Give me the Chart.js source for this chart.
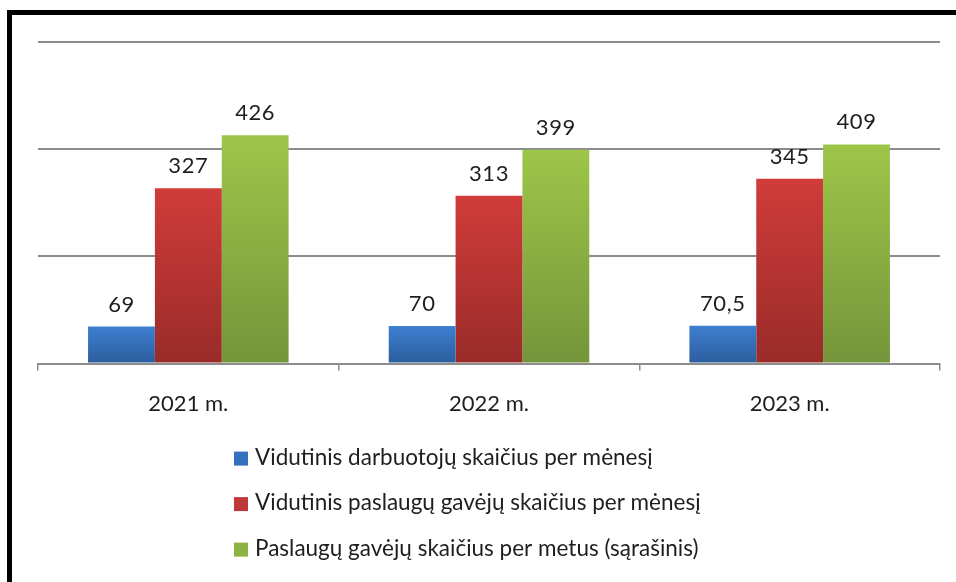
<!DOCTYPE html>
<html>
<head>
<meta charset="utf-8">
<script src="https://cdn.jsdelivr.net/npm/chart.js@4.4.1/dist/chart.umd.min.js"></script>
<style>
  html, body { margin: 0; padding: 0; background: #fff; }
  body { width: 956px; height: 582px; position: relative; overflow: hidden; }
  #frame { position: absolute; left: 7px; top: 10px; width: 1000px; height: 700px;
           border-left: 5px solid #000; border-top: 5px solid #000; }
  #wrap { position: absolute; left: 0; top: 0; width: 956px; height: 582px; }
</style>
</head>
<body>
<div id="frame"></div>
<div id="wrap"><canvas id="c" width="956" height="582"></canvas></div>
<script>
const categories = ['2021 m.', '2022 m.', '2023 m.'];
const seriesNames = [
  'Vidutinis darbuotojų skaičius per mėnesį',
  'Vidutinis paslaugų gavėjų skaičius per mėnesį',
  'Paslaugų gavėjų skaičius per metus (sąrašinis)'
];
const employees = [69, 70, 70.5];
const monthlyRecipients = [327, 313, 345];
const yearlyRecipients = [426, 399, 409];
const yTicks = [0, 200, 400, 600];

const FONT = 'Lato, "Open Sans", sans-serif';
const palette = [
  { top: '#3d7fd0', bottom: '#2c5d9c', legend: '#3570c0' },
  { top: '#d03c39', bottom: '#992b29', legend: '#c0393a' },
  { top: '#9dc649', bottom: '#74953a', legend: '#8db443' }
];

function gradFill(idx) {
  return function(ctx) {
    const chart = ctx.chart;
    const area = chart.chartArea;
    if (!area || ctx.type !== 'data') return palette[idx].top;
    const y = chart.scales.y;
    const top = y.getPixelForValue(ctx.raw);
    const base = y.getPixelForValue(0);
    if (!(base > top)) return palette[idx].top;
    const g = chart.ctx.createLinearGradient(0, top, 0, base);
    g.addColorStop(0, palette[idx].top);
    g.addColorStop(1, palette[idx].bottom);
    return g;
  };
}

const valueLabels = {
  id: 'valueLabels',
  afterDatasetsDraw(chart) {
    const ctx = chart.ctx;
    ctx.save();
    ctx.font = '22px ' + FONT;
    try { ctx.letterSpacing = '0.6px'; } catch (e) {}
    ctx.fillStyle = '#1e1e1e';
    ctx.textAlign = 'center';
    ctx.textBaseline = 'alphabetic';
    chart.data.datasets.forEach((ds, di) => {
      const meta = chart.getDatasetMeta(di);
      meta.data.forEach((bar, i) => {
        const txt = String(ds.data[i]).replace('.', ',');
        ctx.fillText(txt, bar.x, bar.y - 15);
      });
    });
    ctx.restore();
  }
};

const listLegend = {
  id: 'listLegend',
  afterDraw(chart) {
    const ctx = chart.ctx;
    ctx.save();
    ctx.font = '22.5px ' + FONT;
    ctx.fillStyle = '#1e1e1e';
    ctx.textBaseline = 'middle';
    const x0 = 234, y0 = chart.chartArea.bottom + 94, step = 45.5;
    chart.data.datasets.forEach((ds, i) => {
      const y = y0 + i * step;
      ctx.fillStyle = palette[i].legend;
      ctx.fillRect(x0, y - 6, 14, 14);
      ctx.fillStyle = '#1e1e1e';
      ctx.fillText(ds.label, x0 + 21, y);
    });
    ctx.restore();
  }
};

new Chart(document.getElementById('c'), {
  type: 'bar',
  data: {
    labels: categories,
    datasets: [
      { label: seriesNames[0], data: employees, backgroundColor: gradFill(0) },
      { label: seriesNames[1], data: monthlyRecipients, backgroundColor: gradFill(1) },
      { label: seriesNames[2], data: yearlyRecipients, backgroundColor: gradFill(2) }
    ]
  },
  options: {
    responsive: false,
    animation: false,
    devicePixelRatio: 1,
    layout: { padding: { left: 38, right: 16, top: 42, bottom: 145 } },
    datasets: { bar: { categoryPercentage: 0.667, barPercentage: 1.0, borderWidth: 0 } },
    plugins: { legend: { display: false }, tooltip: { enabled: false } },
    scales: {
      x: {
        grid: { drawOnChartArea: false, drawTicks: true, tickLength: 7, color: '#8c8c8c', lineWidth: 1.5 },
        border: { display: true, color: '#8c8c8c', width: 2 },
        ticks: { font: { family: FONT, size: 22 }, color: '#1e1e1e', padding: 20 }
      },
      y: {
        min: yTicks[0], max: yTicks[yTicks.length - 1],
        afterBuildTicks: (s) => { s.ticks = yTicks.map(v => ({ value: v })); },
        afterFit: (s) => { s.width = 0; },
        ticks: { display: false },
        grid: { drawTicks: false, color: '#8c8c8c', lineWidth: 2 },
        border: { display: false }
      }
    }
  },
  plugins: [valueLabels, listLegend]
});
</script>
</body>
</html>
